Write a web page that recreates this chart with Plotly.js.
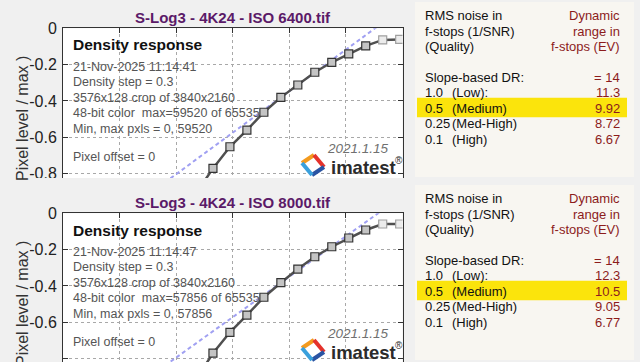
<!DOCTYPE html>
<html><head><meta charset="utf-8">
<script src="https://cdn.plot.ly/plotly-3.0.1.min.js"></script>
<style>html,body{margin:0;padding:0;background:#f0f0f0;}#chart{width:640px;height:362px;}</style>
</head><body><div id="chart"></div>
<script>
// ---- data ----
const logExposure = [-0.05,-0.35,-0.65,-0.95,-1.25,-1.55,-1.85,-2.15,-2.45,-2.75,-3.05,-3.35,-3.65,-3.95];
const saturated   = [true,true,false,false,false,false,false,false,false,false,false,false,false,false];
const level6400   = [-0.061,-0.064,-0.097,-0.141,-0.187,-0.242,-0.312,-0.380,-0.462,-0.560,-0.652,-0.771,-0.91,-1.06];
const level8000   = [-0.059,-0.059,-0.092,-0.136,-0.184,-0.239,-0.307,-0.382,-0.462,-0.560,-0.655,-0.770,-0.91,-1.06];
const fitX        = [-4.5, 0];
const fit6400     = [-0.917, 0.111];
const fit8000     = [-0.905, 0.096];
const yTickVals   = [0,-0.2,-0.4,-0.6,-0.8];
const yTickText   = ["0","-0.2","-0.4","-0.6","-0.8"];
const xTickVals   = [-6,-5,-4,-3,-2,-1,0];
const titles      = ["S-Log3 - 4K24 - ISO 6400.tif","S-Log3 - 4K24 - ISO 8000.tif"];
const info6400    = ["21-Nov-2025 11:14:41","Density step = 0.3","3576x128 crop of 3840x2160","48-bit color  max=59520 of 65535","Min, max pxls = 0, 59520"];
const info8000    = ["21-Nov-2025 11:14:47","Density step = 0.3","3576x128 crop of 3840x2160","48-bit color  max=57856 of 65535","Min, max pxls = 0, 57856"];
const qualityLevels = ["1.0","0.5","0.25","0.1"];
const qualityNames  = ["(Low):","(Medium)","(Med-High)","(High)"];
const slopeDR     = ["= 14","= 14"];
const dr6400      = ["11.3","9.92","8.72","6.67"];
const dr8000      = ["12.3","10.5","9.05","6.77"];

// ---- layout helpers (pixel -> paper) ----
const W=640,H=362;
const px=x=>x/W, py=y=>1-y/H;
const FONT="Liberation Sans, Arial, sans-serif";
const PURPLE="#5b1a68", RED="#8c1c1c";

const fillCol = saturated.map(s=>s?"#ececec":"#c4c4c4");
const lineCol = saturated.map(s=>s?"#a0a0a0":"#333333");

function traces(levels, fitY, xa, ya){
  return [
    {x:fitX,y:fitY,xaxis:xa,yaxis:ya,mode:"lines",line:{color:"#a0a0f2",width:2,dash:"4px,3px"},hoverinfo:"skip"},
    {x:logExposure,y:levels,xaxis:xa,yaxis:ya,mode:"lines+markers",
     line:{color:"#505050",width:2.5},
     marker:{symbol:"square",size:8,color:fillCol,line:{color:lineCol,width:1.2}}}
  ];
}
const data=[...traces(level6400,fit6400,"x","y"),...traces(level8000,fit8000,"x2","y2")];

function xax(anchor){return {anchor:anchor,domain:[px(63),px(402.5)],range:[-6,0],side:"top",
  showline:true,linecolor:"#333",linewidth:1,mirror:false,ticks:"inside",ticklen:5,tickcolor:"#333",
  tickvals:xTickVals,showticklabels:false,showgrid:true,gridcolor:"#a8a8a8",griddash:"dot",gridwidth:1,zeroline:false,fixedrange:true};}
function yax(anchor,top,bottom){return {anchor:anchor,domain:[py(bottom),py(top)],
  range:[-(bottom-top)/181.7,0],showline:true,linecolor:"#333",linewidth:1,mirror:"ticks",ticks:"inside",ticklen:5,tickcolor:"#333",
  tickvals:yTickVals,ticktext:yTickText,tickfont:{family:FONT,size:16,color:"#222"},ticklabelstandoff:2,
  showgrid:true,gridcolor:"#a8a8a8",griddash:"dot",gridwidth:1,zeroline:false,fixedrange:true};}

const ann=[], shapes=[];
function A(x,y,text,opt){ann.push(Object.assign({xref:"paper",yref:"paper",x:px(x),y:py(y),text:text,showarrow:false,
  xanchor:"left",yanchor:"middle",font:{family:FONT,size:13,color:"#111"}},opt||{}));}
function R(x0,y0,x1,y1,color,layer){shapes.push({type:"rect",xref:"paper",yref:"paper",x0:px(x0),x1:px(x1),y0:py(y1),y1:py(y0),
  fillcolor:color,line:{width:0},layer:layer||"below"});}
function L(x0,y0,x1,y1,color){shapes.push({type:"line",xref:"paper",yref:"paper",x0:px(x0),y0:py(y0),x1:px(x1),y1:py(y1),
  line:{color:color,width:4},layer:"above"});}

function panel(off, tIdx, info, dr, tOff){
  A(233,17+off,"<b>"+titles[tIdx]+"</b>",{xanchor:"center",font:{family:FONT,size:15,color:PURPLE}});
  A(22,119+off,"Pixel level / max )",{xanchor:"center",textangle:-90,font:{family:FONT,size:16,color:"#333"}});
  A(71,45+off,"<b>Density response</b>",{font:{family:FONT,size:15.5,color:"#111"}});
  const ys=[66.7,81.7,97.7,113.2,128.5];
  info.forEach((t,i)=>A(71,ys[i]+off,t,{font:{family:FONT,size:12.5,color:"#555"}}));
  A(71,156.7+off,"Pixel offset = 0",{font:{family:FONT,size:12.5,color:"#555"}});
  A(358,148+off,"<i>2021.1.15</i>",{xanchor:"center",font:{family:FONT,size:13.5,color:"#707070"}});
  A(329,167+off,"<b>imatest</b>",{font:{family:FONT,size:18.5,color:"#2b2b2b"}});
  A(393,160+off,"®",{font:{family:FONT,size:10,color:"#2b2b2b"}});
  // logo
  L(302,163+off,314,155+off,"#f39a1e"); L(314,155+off,324,167+off,"#e4322b");
  L(324,167+off,312,175+off,"#2a54a3"); L(312,175+off,302,163+off,"#3aa0dc");
  // right table
  const o=tOff;
  R(415,2+o,634,177+o,"#f8f6f1");
  R(417,97.7+o,627,117.3+o,"#fbe40c");
  A(423,15.7+o,"RMS noise in"); A(423,31+o,"f-stops (1/SNR)"); A(423,46.7+o,"(Quality)");
  A(622,15.7+o,"Dynamic",{xanchor:"right",font:{family:FONT,size:13,color:RED}});
  A(622,31+o,"range in",{xanchor:"right",font:{family:FONT,size:13,color:RED}});
  A(622,46.7+o,"f-stops (EV)",{xanchor:"right",font:{family:FONT,size:13,color:RED}});
  A(423,77.7+o,"Slope-based DR:");
  A(622,77.7+o,slopeDR[tIdx],{xanchor:"right",font:{family:FONT,size:13,color:RED}});
  const ry=[92.9,108.4,123.9,139.4];
  qualityLevels.forEach((q,i)=>{
    A(423,ry[i]+o,q); A(450,ry[i]+o,qualityNames[i]);
    A(622,ry[i]+o,dr[i],{xanchor:"right",font:{family:FONT,size:13,color:RED}});
  });
}
panel(0,0,info6400,dr6400,0);
panel(185,1,info8000,dr8000,183);
R(0,178,640,183,"#f0f0f0","above");

const layout={width:W,height:H,margin:{l:0,r:0,t:0,b:0},paper_bgcolor:"#f0f0f0",plot_bgcolor:"#ffffff",
  showlegend:false,
  xaxis:xax("y"), yaxis:yax("x",28.3,178),
  xaxis2:xax("y2"), yaxis2:yax("x2",213.3,362),
  annotations:ann, shapes:shapes};
Plotly.newPlot("chart",data,layout,{displayModeBar:false,staticPlot:true});
</script></body></html>
